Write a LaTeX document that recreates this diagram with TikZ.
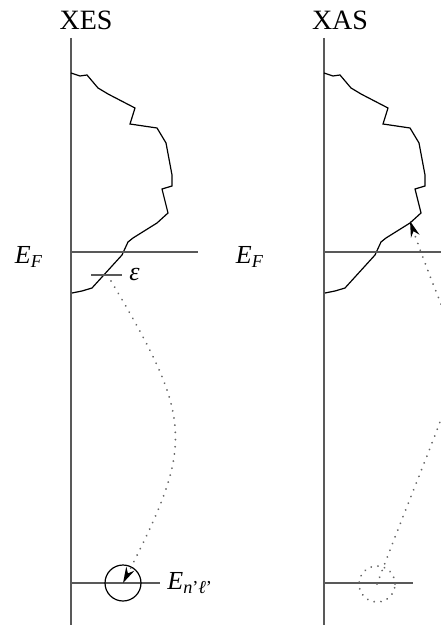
\documentclass[tikz,border=0pt]{standalone}
\usepackage{fontspec}
\setmainfont{Liberation Serif}
\usetikzlibrary{arrows.meta}

\tikzset{
  axis/.style={line width=0.8pt, black!65},
  dos/.style={line width=0.6pt},
  level/.style={line width=0.7pt, black!65},
  photon/.style={line width=1pt, black!60, dash pattern=on 0.01pt off 3.6pt, line cap=round,
    -{Stealth[length=8pt, width=4.5pt, color=black]}},
  txt/.style={text=black, font=\fontsize{13}{15}\selectfont},
  title/.style={text=black, font=\fontsize{14}{16}\selectfont},
}

\begin{document}
\begin{tikzpicture}[x=0.5pt, y=-0.5pt]

\useasboundingbox (0,0) rectangle (440,625);

% Axes and densities of states
\foreach \dx in {0,253} {
  \begin{scope}[shift={(\dx,0)}]
    \draw[axis] (71,38) -- (71,625);
    \draw[dos] (71,73) -- (80,76) -- (87,75) -- (98,88) -- (108,94) -- (135,108)
      -- (130,124) -- (157,128) -- (166,143) -- (172,175) -- (172,186) -- (162,189)
      -- (168,213) -- (157,223) -- (133,238) -- (128,242) -- (122,255) -- (92,288)
      -- (82,291) -- (72,293);
  \end{scope}
}

\node[title] (xes) at (86,20) {XES};
\node[title] (xas) at (340,20) {XAS};

% Fermi level
\draw[level] (71,252) -- (198,252);
\draw[level] (324,252) -- (446,252);

\node[txt] (efl) at (29,257) {\textit{E}\textsubscript{\textit{F}}};
\node[txt] (efr) at (250,257) {\textit{E}\textsubscript{\textit{F}}};

% Valence state
\draw[level] (91,275) -- (122,275) node[txt, right] (eps) {\textit{ε}};
\coordinate (epsdot) at (111,281);

% Core levels
\draw[level] (71,583) -- (160,583) node[txt, right] (enl) {\textit{E}\textsubscript{\textit{n}'\textit{ℓ}'}};
\draw[level] (324,583) -- (413,583);

\node[circle, draw, line width=0.6pt, minimum size=18pt, inner sep=0pt] (core) at (123,583) {};
\node[circle, draw, black!60, line width=1pt, dash pattern=on 0.01pt off 3.4pt, line cap=round,
  minimum size=18pt, inner sep=0pt] (hole) at (377,584) {};

% Transitions
\coordinate (tipr) at (410,221);

\draw[photon] (epsdot) .. controls (194,420) and (194,444) .. (core.center);
\draw[photon] (hole.center) .. controls (480,313) and (470,395) .. (tipr);

\end{tikzpicture}
\end{document}
